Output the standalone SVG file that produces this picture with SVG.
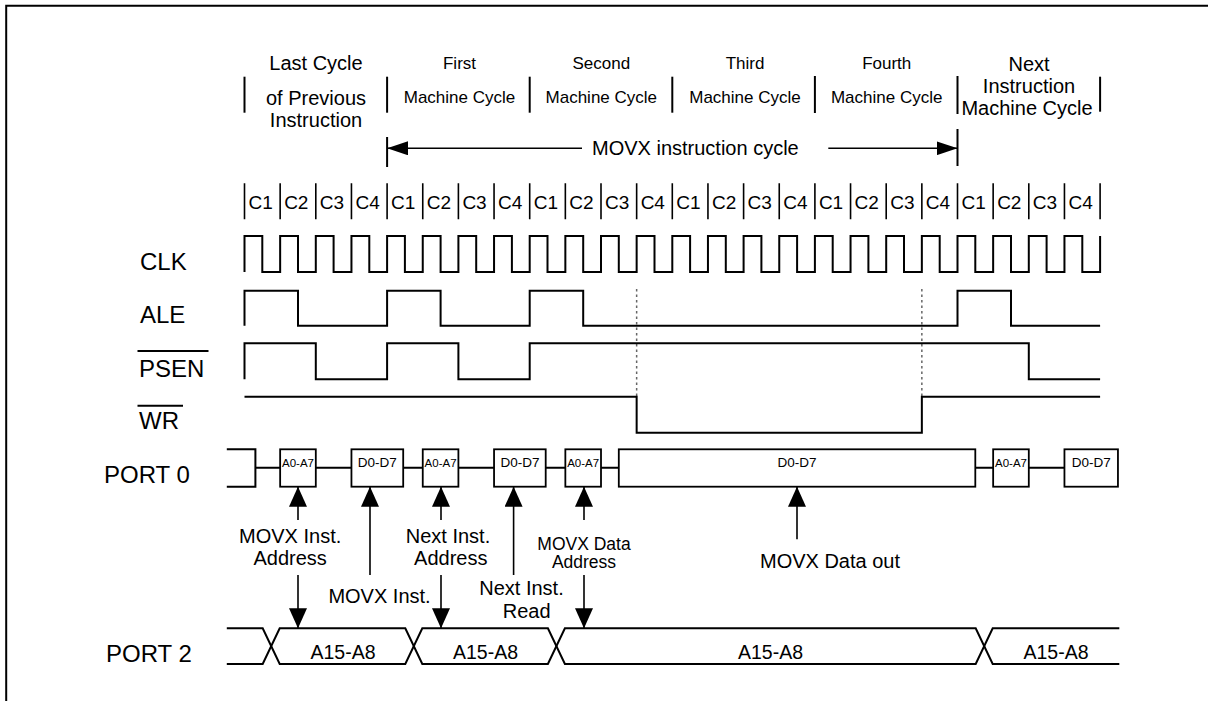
<svg xmlns="http://www.w3.org/2000/svg" width="1208" height="701" viewBox="0 0 1208 701">
<style>
text{font-family:"Liberation Sans",Arial,sans-serif;fill:#000}
.hb{font-size:20px;text-anchor:middle}
.hs{font-size:17px;text-anchor:middle}
.c{font-size:19px}
.sig{font-size:24px}
.lb{font-size:20px;text-anchor:middle}
.lbs{font-size:17.5px;text-anchor:middle}
.bx{fill:#fff;stroke:#000;stroke-width:1.8}
.a7{font-size:11.5px;text-anchor:middle}
.d7{font-size:13.5px;text-anchor:middle}
.bus{font-size:19.5px;text-anchor:middle}
.w{fill:none;stroke:#000;stroke-width:2;stroke-linejoin:miter}
.dv{stroke:#000;stroke-width:2}
.cd{stroke:#000;stroke-width:1.6}
.ar{stroke:#000;stroke-width:1.6;fill:none}
.dot{stroke:#666;stroke-width:1.5;stroke-dasharray:2.5,3}
</style>
<defs>
<marker id="ah" viewBox="0 0 20 18" refX="20" refY="9" markerWidth="20" markerHeight="18" markerUnits="userSpaceOnUse" orient="auto">
<path d="M0,0 L20,9 L0,18 Z" fill="#000"/>
</marker>
<marker id="ahc" viewBox="0 0 21 14" refX="21" refY="7" markerWidth="21" markerHeight="14" markerUnits="userSpaceOnUse" orient="auto">
<path d="M0,0 L21,7 L0,14 Z" fill="#000"/>
</marker>
</defs>
<rect width="1208" height="701" fill="#fff"/>
<path d="M6.2,701 V5.8 H1208" fill="none" stroke="#000" stroke-width="2"/>

<g id="header">
<line class="dv" x1="244.5" y1="76.7" x2="244.5" y2="112.7"/>
<line class="dv" x1="387.1" y1="76.7" x2="387.1" y2="112.7"/>
<line class="dv" x1="529.7" y1="76.7" x2="529.7" y2="112.7"/>
<line class="dv" x1="672.3" y1="76.7" x2="672.3" y2="112.7"/>
<line class="dv" x1="814.9" y1="76" x2="814.9" y2="113"/>
<line class="dv" x1="957.5" y1="76" x2="957.5" y2="114"/>
<line class="dv" x1="1100.1" y1="76.7" x2="1100.1" y2="111.7"/>
<text class="hb" x="316" y="70">Last Cycle</text>
<text class="hb" x="316" y="105">of Previous</text>
<text class="hb" x="316" y="127">Instruction</text>
<text class="hs" x="459.5" y="69.3">First</text>
<text class="hs" x="459.5" y="102.5">Machine Cycle</text>
<text class="hs" x="601.3" y="69.3">Second</text>
<text class="hs" x="601.3" y="102.5">Machine Cycle</text>
<text class="hs" x="745" y="69.3">Third</text>
<text class="hs" x="745" y="102.5">Machine Cycle</text>
<text class="hs" x="886.7" y="69.3">Fourth</text>
<text class="hs" x="886.7" y="102.5">Machine Cycle</text>
<text class="hb" x="1029" y="70.7">Next</text>
<text class="hb" x="1029" y="93">Instruction</text>
<text class="hb" x="1027" y="115">Machine Cycle</text>
</g>

<g id="movx-cycle">
<line class="dv" x1="387.1" y1="137" x2="387.1" y2="167"/>
<line class="dv" x1="957.5" y1="129" x2="957.5" y2="166"/>
<line class="ar" x1="582" y1="148.3" x2="387.1" y2="148.3" marker-end="url(#ahc)"/>
<line class="ar" x1="828.3" y1="148.3" x2="957.5" y2="148.3" marker-end="url(#ahc)"/>
<text x="592" y="155" style="font-size:20px">MOVX instruction cycle</text>
</g>

<g id="cycles">
<path class="cd" d="M244.5,183.3V219.3M280.15,183.3V219.3M315.8,183.3V219.3M351.45,183.3V219.3M387.1,183.3V219.3M422.75,183.3V219.3M458.4,183.3V219.3M494.05,183.3V219.3M529.7,183.3V219.3M565.35,183.3V219.3M601,183.3V219.3M636.65,183.3V219.3M672.3,183.3V219.3M707.95,183.3V219.3M743.6,183.3V219.3M779.25,183.3V219.3M814.9,183.3V219.3M850.55,183.3V219.3M886.2,183.3V219.3M921.85,183.3V219.3M957.5,183.3V219.3M993.15,183.3V219.3M1028.8,183.3V219.3M1064.45,183.3V219.3M1100.1,183.3V219.3"/>
<text class="c" x="248.5" y="209.3">C1</text>
<text class="c" x="284.15" y="209.3">C2</text>
<text class="c" x="319.8" y="209.3">C3</text>
<text class="c" x="355.45" y="209.3">C4</text>
<text class="c" x="391.1" y="209.3">C1</text>
<text class="c" x="426.75" y="209.3">C2</text>
<text class="c" x="462.4" y="209.3">C3</text>
<text class="c" x="498.05" y="209.3">C4</text>
<text class="c" x="533.7" y="209.3">C1</text>
<text class="c" x="569.35" y="209.3">C2</text>
<text class="c" x="605" y="209.3">C3</text>
<text class="c" x="640.65" y="209.3">C4</text>
<text class="c" x="676.3" y="209.3">C1</text>
<text class="c" x="711.95" y="209.3">C2</text>
<text class="c" x="747.6" y="209.3">C3</text>
<text class="c" x="783.25" y="209.3">C4</text>
<text class="c" x="818.9" y="209.3">C1</text>
<text class="c" x="854.55" y="209.3">C2</text>
<text class="c" x="890.2" y="209.3">C3</text>
<text class="c" x="925.85" y="209.3">C4</text>
<text class="c" x="961.5" y="209.3">C1</text>
<text class="c" x="997.15" y="209.3">C2</text>
<text class="c" x="1032.8" y="209.3">C3</text>
<text class="c" x="1068.45" y="209.3">C4</text>
</g>

<g id="clk">
<text class="sig" x="140" y="270">CLK</text>
<path class="w" d="M244.5,272V236H262.3V272H280.15V236H298V272H315.8V236H333.6V272H351.45V236H369.3V272H387.1V236H404.9V272H422.75V236H440.6V272H458.4V236H476.2V272H494.05V236H511.9V272H529.7V236H547.5V272H565.35V236H583.2V272H601V236H618.8V272H636.65V236H654.5V272H672.3V236H690.1V272H707.95V236H725.8V272H743.6V236H761.4V272H779.25V236H797.1V272H814.9V236H832.7V272H850.55V236H868.4V272H886.2V236H904V272H921.85V236H939.7V272H957.5V236H975.3V272H993.15V236H1011V272H1028.8V236H1046.6V272H1064.45V236H1082.3V272H1100.1V236"/>
</g>

<g id="guides">
<line class="dot" x1="636.65" y1="289" x2="636.65" y2="396.7"/>
<line class="dot" x1="921.85" y1="289" x2="921.85" y2="396.7"/>
</g>

<g id="ale">
<text class="sig" x="140" y="323">ALE</text>
<path class="w" d="M244.5,325.7V290.7H298V325.7H387.1V290.7H440.6V325.7H529.7V290.7H583.2V325.7H957.5V290.7H1011V325.7H1100.1"/>
</g>

<g id="psen">
<text class="sig" x="139" y="376.7">PSEN</text>
<line x1="137.5" y1="351" x2="208.5" y2="351" stroke="#000" stroke-width="2"/>
<path class="w" d="M244.5,379.3V343.3H315.8V379.3H387.1V343.3H458.4V379.3H529.7V343.3H1028.8V379.3H1100.1"/>
</g>

<g id="wr">
<text class="sig" x="139" y="429.3">WR</text>
<line x1="137.5" y1="405.7" x2="183" y2="405.7" stroke="#000" stroke-width="2"/>
<path class="w" d="M244.5,396.7H636.65V432.7H921.85V396.7H1100.1"/>
</g>

<g id="port0">
<text class="sig" x="104" y="482.5">PORT 0</text>
<path class="w" d="M226.8,449.3H255.4V486.7H226.8"/>
<path class="w" d="M255.4,467.7H280.15M315.8,467.7H351.45M403.2,467.7H422.75M458.4,467.7H494.05M545.7,467.7H565.35M601,467.7H618.8M975.3,467.7H993.15M1028.8,467.7H1064.45"/>
<rect class="bx" x="280.15" y="449.3" width="35.65" height="37.4"/>
<rect class="bx" x="351.45" y="449.3" width="51.75" height="37.4"/>
<rect class="bx" x="422.75" y="449.3" width="35.65" height="37.4"/>
<rect class="bx" x="494.05" y="449.3" width="51.65" height="37.4"/>
<rect class="bx" x="565.35" y="449.3" width="35.65" height="37.4"/>
<rect class="bx" x="618.8" y="449.3" width="356.5" height="37.4"/>
<rect class="bx" x="993.15" y="449.3" width="35.65" height="37.4"/>
<rect class="bx" x="1064.45" y="449.3" width="53.5" height="37.4"/>
<text class="a7" x="298" y="467">A0-A7</text>
<text class="d7" x="377.3" y="467">D0-D7</text>
<text class="a7" x="440.6" y="467">A0-A7</text>
<text class="d7" x="519.9" y="467">D0-D7</text>
<text class="a7" x="583.2" y="467">A0-A7</text>
<text class="d7" x="797" y="467">D0-D7</text>
<text class="a7" x="1011" y="467">A0-A7</text>
<text class="d7" x="1091.2" y="467">D0-D7</text>
</g>

<g id="port2">
<text class="sig" x="106" y="662">PORT 2</text>
<path class="w" d="M226.8,628.3H262.7L279.7,664H405.3L422.3,628.3H547.9L564.9,664H975.7L992.7,628.3H1119.3"/>
<path class="w" d="M226.8,664H262.7L279.7,628.3H405.3L422.3,664H547.9L564.9,628.3H975.7L992.7,664H1119.3"/>
<text class="bus" x="343" y="659">A15-A8</text>
<text class="bus" x="485.5" y="659">A15-A8</text>
<text class="bus" x="770.5" y="659">A15-A8</text>
<text class="bus" x="1056" y="659">A15-A8</text>
</g>

<g id="connectors">
<line class="ar" x1="298" y1="520" x2="298" y2="486.7" marker-end="url(#ah)"/>
<line class="ar" x1="370" y1="575" x2="370" y2="486.7" marker-end="url(#ah)"/>
<line class="ar" x1="441" y1="520" x2="441" y2="486.7" marker-end="url(#ah)"/>
<line class="ar" x1="513.6" y1="575" x2="513.6" y2="486.7" marker-end="url(#ah)"/>
<line class="ar" x1="584" y1="520" x2="584" y2="486.7" marker-end="url(#ah)"/>
<line class="ar" x1="797" y1="539.3" x2="797" y2="486.7" marker-end="url(#ah)"/>
<line class="ar" x1="298" y1="575" x2="298" y2="628.3" marker-end="url(#ah)"/>
<line class="ar" x1="441" y1="575" x2="441" y2="628.3" marker-end="url(#ah)"/>
<line class="ar" x1="584" y1="575" x2="584" y2="628.3" marker-end="url(#ah)"/>
</g>

<g id="labels">
<text class="lb" x="290.2" y="543.3">MOVX Inst.</text>
<text class="lb" x="290.2" y="565">Address</text>
<text class="lb" x="379.5" y="603.3">MOVX Inst.</text>
<text class="lb" x="448" y="543.3">Next Inst.</text>
<text class="lb" x="450.8" y="565">Address</text>
<text class="lb" x="521.5" y="595">Next Inst.</text>
<text class="lb" x="526.6" y="618">Read</text>
<text class="lbs" x="584" y="550">MOVX Data</text>
<text class="lbs" x="584" y="568.3">Address</text>
<text class="lb" x="830" y="568">MOVX Data out</text>
</g>
</svg>
